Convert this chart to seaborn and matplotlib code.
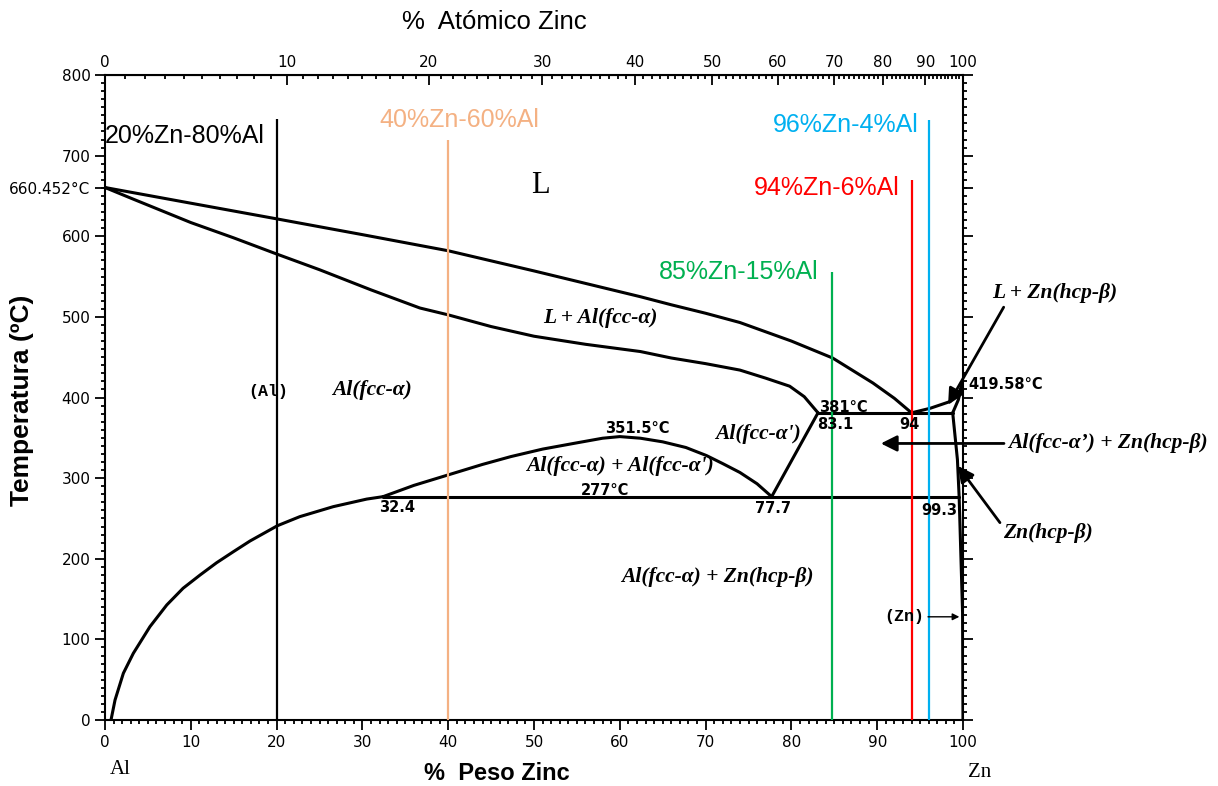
import numpy as np
import seaborn as sns
import matplotlib.pyplot as plt
from matplotlib.ticker import MultipleLocator, FixedLocator

# ---- phase boundaries (wt% Zn, deg C) ----
liq_al_x = [0, 10, 20, 30, 40, 50, 62.4, 66, 70, 74, 80, 84.8, 89.5, 92, 94]
liq_al_y = [660.452, 641, 621.6, 602, 582, 557, 525, 515, 504.5, 493, 470, 449, 418, 399, 381]

sol_al_x = [0, 3.3, 10, 15, 20, 25, 31, 36.7, 40, 45, 50, 56, 62.4, 66, 70, 74, 77, 79.8, 81.5, 83.1]
sol_al_y = [660.452, 646, 617, 598, 578, 558.5, 533.5, 511, 502.5, 488, 476, 466, 457, 449, 442, 434, 424, 414, 401, 381]

solv_al_x = [0.7, 1.17, 2.14, 3.3, 5.24, 7.2, 9.1, 11.1, 13, 15, 16.9, 20.1, 22.7, 26.6, 30.5, 32.4]
solv_al_y = [0, 24.8, 58, 82.7, 115.8, 142.7, 163.4, 180, 195, 209, 222, 241, 252.2, 264.6, 274, 277]

gap_x = [32.4, 36, 40, 44, 47.3, 51, 54.6, 58, 60, 62.4, 65, 67.7, 70.1, 72, 74, 76, 77.7]
gap_y = [277, 291, 304, 317, 326.7, 336, 343, 349.5, 351.5, 349.5, 345, 338, 328, 318, 307, 293, 277]

alpha2_x = [77.7, 83.1]
alpha2_y = [277, 381]

eut_x = [83.1, 98.8]
eut_y = [381, 381]

mono_x = [32.4, 99.55]
mono_y = [277, 277]

liq_zn_x = [94, 96.2, 98.5, 99.65, 100]
liq_zn_y = [381, 386.7, 395, 409, 419.58]

sol_zn_x = [98.8, 99.45, 100]
sol_zn_y = [381, 397, 419.58]

solv_zn_x = [98.8, 99.35, 99.55, 99.95, 100]
solv_zn_y = [381, 323, 277, 133, 0]

# ---- alloy composition lines ----
comp_x = [20, 40, 84.7, 94, 96]
comp_top = [746, 720, 556, 670, 744]
comp_colors = ['black', '#F4B183', '#00B050', '#FF0000', '#00B0F0']
comp_labels = ['20%Zn-80%Al', '40%Zn-60%Al', '85%Zn-15%Al', '94%Zn-6%Al', '96%Zn-4%Al']
comp_lab_x = [9.3, 41.3, 73.8, 84.1, 86.3]
comp_lab_y = [724, 744, 556, 660, 738]

M_ZN, M_AL = 65.38, 26.98


def wt_to_at(w):
    w = np.asarray(w, dtype=float)
    with np.errstate(divide='ignore', invalid='ignore'):
        return 100 * (w / M_ZN) / (w / M_ZN + (100 - w) / M_AL)


def at_to_wt(a):
    a = np.asarray(a, dtype=float)
    with np.errstate(divide='ignore', invalid='ignore'):
        return 100 * a * M_ZN / (a * M_ZN + (100 - a) * M_AL)


sns.set_style('ticks')
plt.rcParams['font.family'] = ['DejaVu Sans']
plt.rcParams.update({'text.color': 'black', 'axes.labelcolor': 'black',
                     'xtick.color': 'black', 'ytick.color': 'black'})

fig = plt.figure(figsize=(12.18, 7.86), dpi=100)
ax = fig.add_axes([105 / 1218, 66 / 786, 858 / 1218, 645 / 786])

curves = [(liq_al_x, liq_al_y), (sol_al_x, sol_al_y), (solv_al_x, solv_al_y),
          (gap_x, gap_y), (alpha2_x, alpha2_y), (eut_x, eut_y), (mono_x, mono_y),
          (liq_zn_x, liq_zn_y), (sol_zn_x, sol_zn_y), (solv_zn_x, solv_zn_y)]
for cx, cy in curves:
    sns.lineplot(x=cx, y=cy, sort=False, estimator=None, color='black', lw=2.2, ax=ax)

ax.vlines(comp_x, 0, comp_top, colors=comp_colors, lw=1.6, zorder=3)
for lx, ly, txt, c in zip(comp_lab_x, comp_lab_y, comp_labels, comp_colors):
    ax.text(lx, ly, txt, color=c, ha='center', va='center', family='Liberation Sans', fontsize=18)

# ---- axes ----
ax.set_xlim(0, 100)
ax.set_ylim(0, 800)
ax.xaxis.set_major_locator(MultipleLocator(10))
ax.xaxis.set_minor_locator(MultipleLocator(1))
yt = [0, 100, 200, 300, 400, 500, 600, 700, 800, 660.452]
ax.yaxis.set_major_locator(FixedLocator(yt))
ax.set_yticklabels(['0', '100', '200', '300', '400', '500', '600', '700', '800', '660.452°C'])
ax.yaxis.set_minor_locator(MultipleLocator(10))
ax.tick_params(which='both', direction='out', right=True, labelsize=11, width=1.3, color='black')
ax.tick_params(which='major', length=7)
ax.tick_params(which='minor', length=3)
for s in ax.spines.values():
    s.set_visible(True)
    s.set_linewidth(1.5)
    s.set_color('black')
ax.set_xlabel('')
ax.set_ylabel('')

secax = ax.secondary_xaxis('top', functions=(wt_to_at, at_to_wt))
secax.xaxis.set_major_locator(FixedLocator(list(range(0, 101, 10))))
secax.xaxis.set_minor_locator(FixedLocator(list(range(0, 101, 1))))
secax.tick_params(which='both', direction='in', labelsize=11, width=1.3)
secax.tick_params(which='major', length=7)
secax.tick_params(which='minor', length=3)

fig.text(0.4056, 0.972, '%  Atómico Zinc', ha='center', va='center', family='Liberation Sans', fontsize=18.5)
fig.text(0.408, 0.0165, '%  Peso Zinc', ha='center', va='center', family='Liberation Sans',
         fontsize=17, fontweight='bold')
fig.text(0.018, 0.491, 'Temperatura (ºC)', ha='center', va='center', rotation=90,
         family='Liberation Sans', fontsize=19, fontweight='bold')
fig.text(0.0985, 0.0204, 'Al', ha='center', va='center', family='Liberation Serif', fontsize=15)
fig.text(0.8046, 0.0178, 'Zn', ha='center', va='center', family='Liberation Serif', fontsize=15)

# ---- region labels ----
ph = dict(family='Liberation Serif', fontweight='bold', fontstyle='italic', fontsize=15.5,
          ha='center', va='center')
ax.text(50.7, 663, 'L', family='Liberation Serif', fontsize=22, ha='center', va='center')
ax.text(57.7, 499, 'L + Al(fcc-α)', **ph)
ax.text(31.1, 409, 'Al(fcc-α)', **ph)
ax.text(76.1, 355, "Al(fcc-α')", **ph)
ax.text(60, 315, "Al(fcc-α) + Al(fcc-α')", **ph)
ax.text(71.4, 177, 'Al(fcc-α) + Zn(hcp-β)', **ph)
ax.text(19.0, 407, '(Al)', family='Liberation Mono', fontweight='bold', fontsize=12,
        ha='center', va='center')
ax.text(93.1, 128, '(Zn)', family='Liberation Mono', fontweight='bold', fontsize=12,
        ha='center', va='center')
ax.annotate('', xy=(99.9, 128), xytext=(95.6, 128),
            arrowprops=dict(arrowstyle='-|>', lw=1, color='black', mutation_scale=10))

num = dict(fontsize=10.5, ha='center', va='center', fontweight='bold')
ax.text(62, 362, '351.5°C', **num)
ax.text(86, 388, '381°C', **num)
ax.text(85.1, 366, '83.1', **num)
ax.text(93.8, 367, '94', **num)
ax.text(100.6, 416, '419.58°C', fontsize=10.5, ha='left', va='center', fontweight='bold')
ax.text(58.3, 285, '277°C', **num)
ax.text(34, 263, '32.4', **num)
ax.text(77.9, 262, '77.7', **num)
ax.text(97.2, 260, '99.3', **num)

arrow = dict(arrowstyle='-|>', lw=2, color='black', mutation_scale=24)
ax.text(110.7, 530, 'L + Zn(hcp-β)', **ph)
ax.annotate('', xy=(98.1, 388), xytext=(104.9, 515), arrowprops=arrow, annotation_clip=False)
ax.annotate('', xy=(90.1, 343), xytext=(105.1, 343), arrowprops=arrow, annotation_clip=False)
ax.text(105.2, 343, 'Al(fcc-α’) + Zn(hcp-β)', family='Liberation Serif', fontweight='bold',
        fontstyle='italic', fontsize=15.5, ha='left', va='center')
ax.annotate('', xy=(99.2, 318), xytext=(104.5, 242), arrowprops=arrow, annotation_clip=False)
ax.text(109.9, 232, 'Zn(hcp-β)', **ph)

fig.savefig('out.png', dpi=100)
plt.close()
